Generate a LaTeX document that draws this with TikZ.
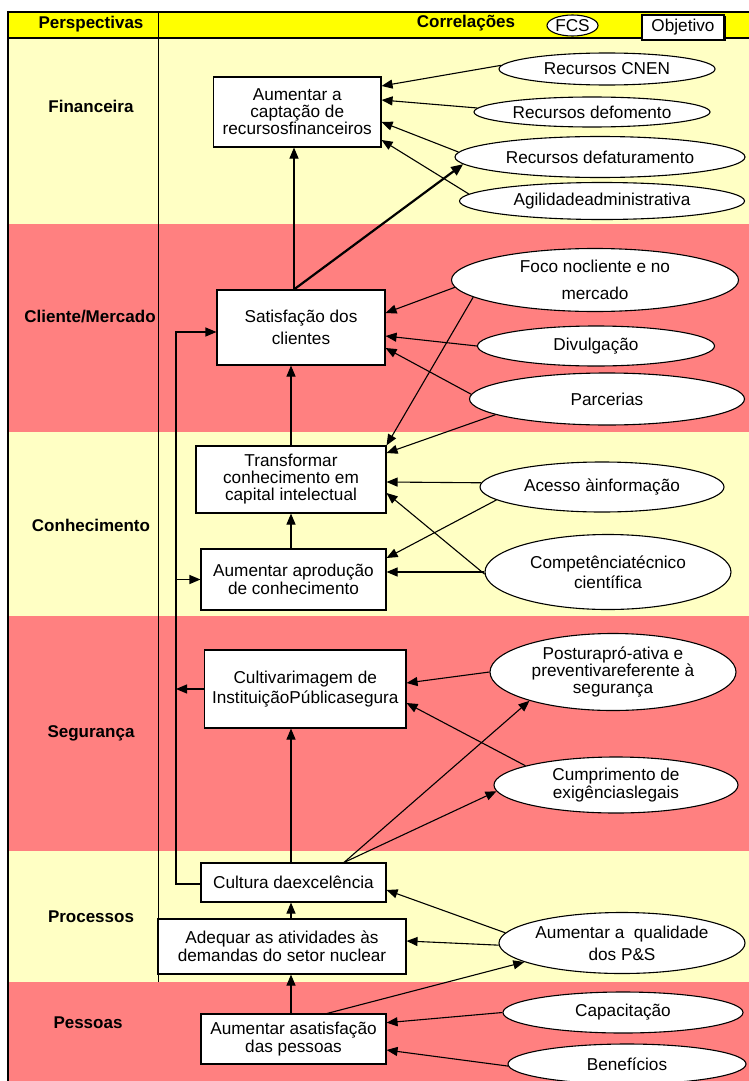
\documentclass[tikz,border=0pt]{standalone}
\usepackage{fontspec}
\setmainfont{Liberation Sans}
\usetikzlibrary{shapes.geometric,arrows.meta,shadows,calc}
\definecolor{hdr}{RGB}{255,255,0}
\definecolor{lightband}{RGB}{255,255,196}
\definecolor{redband}{RGB}{255,128,128}
\begin{document}
\begin{tikzpicture}[x=1pt,y=-1pt,
  bs/.style={font=\fontsize{17.2}{#1}\selectfont},
  txt/.style={bs=18, align=center, inner sep=0pt},
  obj/.style={txt, draw=black, line width=1.1pt, fill=white},
  fcs/.style={txt, ellipse, draw=black, line width=1.1pt, fill=white},
  persp/.style={font=\bfseries\fontsize{17}{18}\selectfont, inner sep=0pt},
  arr/.style={-{Triangle[length=11pt,width=9pt]}, line width=1.1pt},
  ln/.style={line width=1.1pt},
]
\useasboundingbox (0,0) rectangle (749,1081);
% bands
\fill[white] (0,0) rectangle (749,1081);
\fill[hdr] (8,12) rectangle (749,38);
\fill[lightband] (8,38) rectangle (749,224);
\fill[redband] (8,224) rectangle (749,432);
\fill[lightband] (8,432) rectangle (749,616);
\fill[redband] (8,616) rectangle (749,851);
\fill[lightband] (8,851) rectangle (749,982);
\fill[redband] (8,982) rectangle (749,1081);
% frame lines
\draw[line width=1.5pt] (8,12) -- (749,12);
\draw[line width=2.5pt] (8,38) -- (749,38);
\draw[line width=2.5pt] (8,11) -- (8,1081);
\draw[line width=1pt] (158,12) -- (158,982);

% header
\node[persp] (hp) at (91,24) {Perspectivas};
\node[persp] (hc) at (466,23) {Correlações};
\node[fcs, minimum width=51pt, minimum height=21pt] (hfcs) at (572.5,25.5) {FCS};
\node[obj, minimum width=82pt, minimum height=25pt,
  drop shadow={shadow xshift=1.5pt, shadow yshift=-1.5pt, opacity=1, fill=black}] (hobj) at (683,27.5) {Objetivo};

% perspective labels
\node[persp] (pfin) at (91,106) {Financeira};
\node[persp] (pcli) at (90,317) {Cliente/Mercado};
\node[persp] (pcon) at (91,525) {Conhecimento};
\node[persp] (pseg) at (91,733) {Segurança};
\node[persp] (ppro) at (91,917) {Processos};
\node[persp] (ppes) at (88,1023) {Pessoas};

% objective boxes
\node[obj, bs=17, minimum width=167.5pt, minimum height=70pt] (capt) at (297.25,112) {Aumentar a\\captação de\\recursosfinanceiros};
\node[obj, bs=21.7, minimum width=168pt, minimum height=75pt] (sat) at (301,327.5) {Satisfação dos\\clientes};
\node[obj, bs=17, minimum width=190pt, minimum height=67pt] (trans) at (291,479.5) {Transformar\\conhecimento em\\capital intelectual};
\node[obj, bs=18.3, minimum width=185pt, minimum height=61pt] (prod) at (293.5,579.5) {Aumentar aprodução\\de conhecimento};
\node[obj, bs=19.3, minimum width=201.5pt, minimum height=78pt] (cultiv) at (305.25,689) {Cultivarimagem de\\InstituiçãoPúblicasegura};
\node[obj, minimum width=185pt, minimum height=39pt] (cultura) at (293.5,882.5) {Cultura daexcelência};
\node[obj, bs=18.3, minimum width=248pt, minimum height=55pt] (adeq) at (282,946.5) {Adequar as atividades às\\demandas do setor nuclear};
\node[obj, bs=18.3, minimum width=185pt, minimum height=50pt] (pess) at (293.5,1039) {Aumentar asatisfação\\das pessoas};

% FCS ellipses
\node[fcs, minimum width=216pt, minimum height=32pt] (cnen) at (607,69) {Recursos CNEN};
\node[fcs, minimum width=236pt, minimum height=30pt] (fomento) at (592,112) {Recursos defomento};
\node[fcs, minimum width=290pt, minimum height=41pt] (fatur) at (600,157) {Recursos defaturamento};
\node[fcs, minimum width=285pt, minimum height=37pt] (agil) at (602,201) {Agilidadeadministrativa};
\node[fcs, bs=26.7, minimum width=287pt, minimum height=63pt] (foco) at (595,280) {Foco nocliente e no\\mercado};
\node[fcs, minimum width=237pt, minimum height=40pt] (divulg) at (596,346) {Divulgação};
\node[fcs, minimum width=275pt, minimum height=52pt] (parc) at (607,399) {Parcerias};
\node[fcs, minimum width=244pt, minimum height=50pt] (acesso) at (602,487) {Acesso àinformação};
\node[fcs, bs=20, minimum width=246pt, minimum height=75pt] (compet) at (608,572) {Competênciatécnico\\científica};
\node[fcs, bs=17, minimum width=246pt, minimum height=77pt] (postura) at (613,672) {Posturapró-ativa e\\preventivareferente à\\segurança};
\node[fcs, bs=18.3, minimum width=244pt, minimum height=56pt] (cumpr) at (616,785) {Cumprimento de\\exigênciaslegais};
\node[fcs, bs=21.7, minimum width=246pt, minimum height=61pt] (qual) at (622,943) {Aumentar a~~qualidade\\dos P\&S};
\node[fcs, minimum width=240pt, minimum height=41pt] (capac) at (623,1012.5) {Capacitação};
\node[fcs, minimum width=238pt, minimum height=40pt] (benef) at (627,1064) {Benefícios};

% Financeira arrows
\draw[arr] (cnen.178) -- ($(capt.east)+(0,-26)$);
\draw[arr] (fomento.178) -- ($(capt.east)+(0,-12)$);
\draw[arr] (fatur.178) -- ($(capt.east)+(0,10)$);
\draw[arr] (agil.177) -- ($(capt.east)+(0,28)$);
\draw[arr] ($(sat.north)+(-7,0)$) -- ($(capt.south)+(-3.25,0)$);
\draw[-{Triangle[length=12pt,width=10pt]}, line width=2.2pt] ($(sat.north)+(-7,0)$) -- (fatur.183);

% Cliente arrows
\draw[arr] (foco.183) -- ($(sat.east)+(0,-14.5)$);
\draw[arr] (divulg.180) -- ($(sat.east)+(0,8.5)$);
\draw[arr] (parc.178) -- ($(sat.east)+(0,20.5)$);
\draw[arr] (foco.188) -- (trans.north east);
\draw[arr] (parc.188) -- ($(trans.east)+(0,-26.5)$);
\draw[arr] (trans.north) -- ($(sat.south)+(-10,0)$);

% Conhecimento arrows
\draw[arr] (acesso.178) -- ($(trans.east)+(0,2.5)$);
\draw[arr] (compet.181) -- ($(trans.east)+(0,13.5)$);
\draw[arr] (acesso.187) -- ($(prod.east)+(0,-21.5)$);
\draw[arr] (compet.180) -- ($(prod.east)+(0,-7.5)$);
\draw[arr] ($(prod.north)+(-2.5,0)$) -- (trans.south);

% Seguranca arrows
\draw[arr] (postura.180) -- ($(cultiv.east)+(0,-6)$);
\draw[arr] (cumpr.168) -- ($(cultiv.east)+(0,14)$);
\draw[arr] ($(cultura.north)+(-2.5,0)$) -- ($(cultiv.south)+(-14.25,0)$);
\draw[arr] ($(cultura.north)+(50.5,0)$) -- (postura.199);
\draw[arr] ($(cultura.north)+(50.5,0)$) -- (cumpr.183);

% Processos arrows
\draw[arr] (qual.175) -- ($(cultura.east)+(0,7.5)$);
\draw[arr] (qual.181) -- ($(adeq.east)+(0,-5.5)$);
\draw[arr] ($(adeq.north)+(9,0)$) -- ($(cultura.south)+(-2.5,0)$);

% Pessoas arrows
\draw[arr] ($(pess.north)+(-2.5,0)$) -- ($(adeq.south)+(9,0)$);
\draw[arr] ($(pess.north)+(33.5,0)$) -- (qual.191);
\draw[arr] (capac.180) -- ($(pess.east)+(0,-16.3)$);
\draw[arr] (benef.181) -- ($(pess.east)+(0,11)$);

% feedback loop
\coordinate (fbtop) at (176,332);
\coordinate (fbbot) at (176,884);
\draw[arr] (cultura.west |- fbbot) -- (fbbot) -- (fbtop) -- (sat.west |- fbtop);
\draw[arr] (fbtop |- prod.west) -- (prod.west);
\draw[arr] (cultiv.west) -- (fbtop |- cultiv.west);
\end{tikzpicture}
\end{document}
